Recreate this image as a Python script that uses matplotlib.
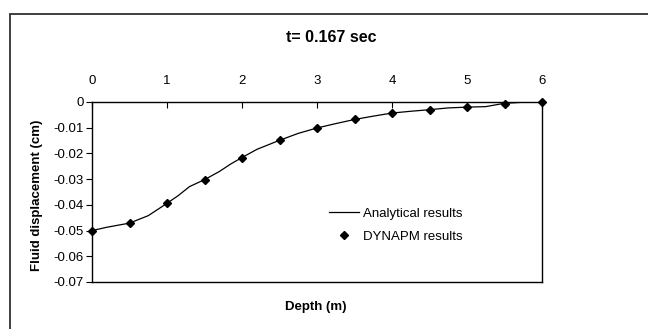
import numpy as np
import matplotlib.pyplot as plt
from matplotlib.patches import Rectangle
from matplotlib.ticker import FuncFormatter

plt.rcParams['font.family'] = ['Liberation Sans', 'DejaVu Sans']

# DYNAPM results (points)
depth_pts = [0, 0.5, 1, 1.5, 2, 2.5, 3, 3.5, 4, 4.5, 5, 5.5, 6]
disp_pts = [-0.0500, -0.0471, -0.0394, -0.0302, -0.0216, -0.0149, -0.0101,
            -0.0068, -0.0043, -0.0030, -0.0020, -0.0007, -0.0001]

# Analytical results (line)
depth_line = [0, 0.2, 0.5, 0.75, 1.0, 1.15, 1.3, 1.5, 1.7, 1.85, 2.0, 2.2,
              2.5, 2.75, 3.0, 3.25, 3.5, 3.75, 4.0, 4.25, 4.5, 4.75, 5.0,
              5.25, 5.5, 5.75, 6.0]
disp_line = [-0.0500, -0.0487, -0.0471, -0.0442, -0.0394, -0.0364, -0.0329,
             -0.0302, -0.0270, -0.0241, -0.0216, -0.0184, -0.0149, -0.0122,
             -0.0101, -0.0084, -0.0068, -0.0055, -0.0043, -0.0036, -0.0030,
             -0.0023, -0.0020, -0.0018, -0.0005, -0.0001, -0.0001]

fig = plt.figure(figsize=(6.48, 3.29), dpi=100)
fig.patches.append(Rectangle((10 / 648, -0.1), 1.2, 1 - 14 / 329 + 0.1,
                             transform=fig.transFigure, fill=False,
                             edgecolor='#303030', linewidth=1.3))

ax = fig.add_axes([92 / 648, 1 - 282 / 329, 450 / 648, 180 / 329])
ax.plot(depth_line, disp_line, color='black', linewidth=0.9,
        solid_joinstyle='round', label='Analytical results')
ax.plot(depth_pts, disp_pts, linestyle='none', marker='D', markersize=4.5,
        color='black', label='DYNAPM results', clip_on=False)

ax.set_xlim(0, 6)
ax.set_ylim(-0.07, 0)
ax.xaxis.tick_top()
ax.set_xticks(range(0, 7))
ax.set_yticks(np.arange(-0.07, 0.001, 0.01))
ax.yaxis.set_major_formatter(FuncFormatter(lambda v, p: '0' if abs(v) < 1e-9 else f'{v:.2f}'))
ax.tick_params(axis='x', direction='in', length=4, labelsize=9.5, pad=11)
ax.tick_params(axis='y', direction='out', length=4, labelsize=9.5, pad=2)
for s in ax.spines.values():
    s.set_linewidth(1.0)

fig.text(331 / 648, 1 - 37 / 329, 't= 0.167 sec', ha='center', va='center',
         fontsize=11.5, fontweight='bold')
fig.text(316 / 648, 1 - 307 / 329, 'Depth (m)', ha='center', va='center',
         fontsize=9.5, fontweight='bold')
fig.text(37 / 648, 1 - 195 / 329, 'Fluid displacement (cm)', ha='center',
         va='center', rotation=90, fontsize=9.5, fontweight='bold')

ax.legend(loc='upper left', bbox_to_anchor=(0.5, 0.48), frameon=False,
          fontsize=9.5, handlelength=2.3, handletextpad=0.3, labelspacing=0.8,
          markerscale=0.85)

fig.savefig('out.png', dpi=100)
